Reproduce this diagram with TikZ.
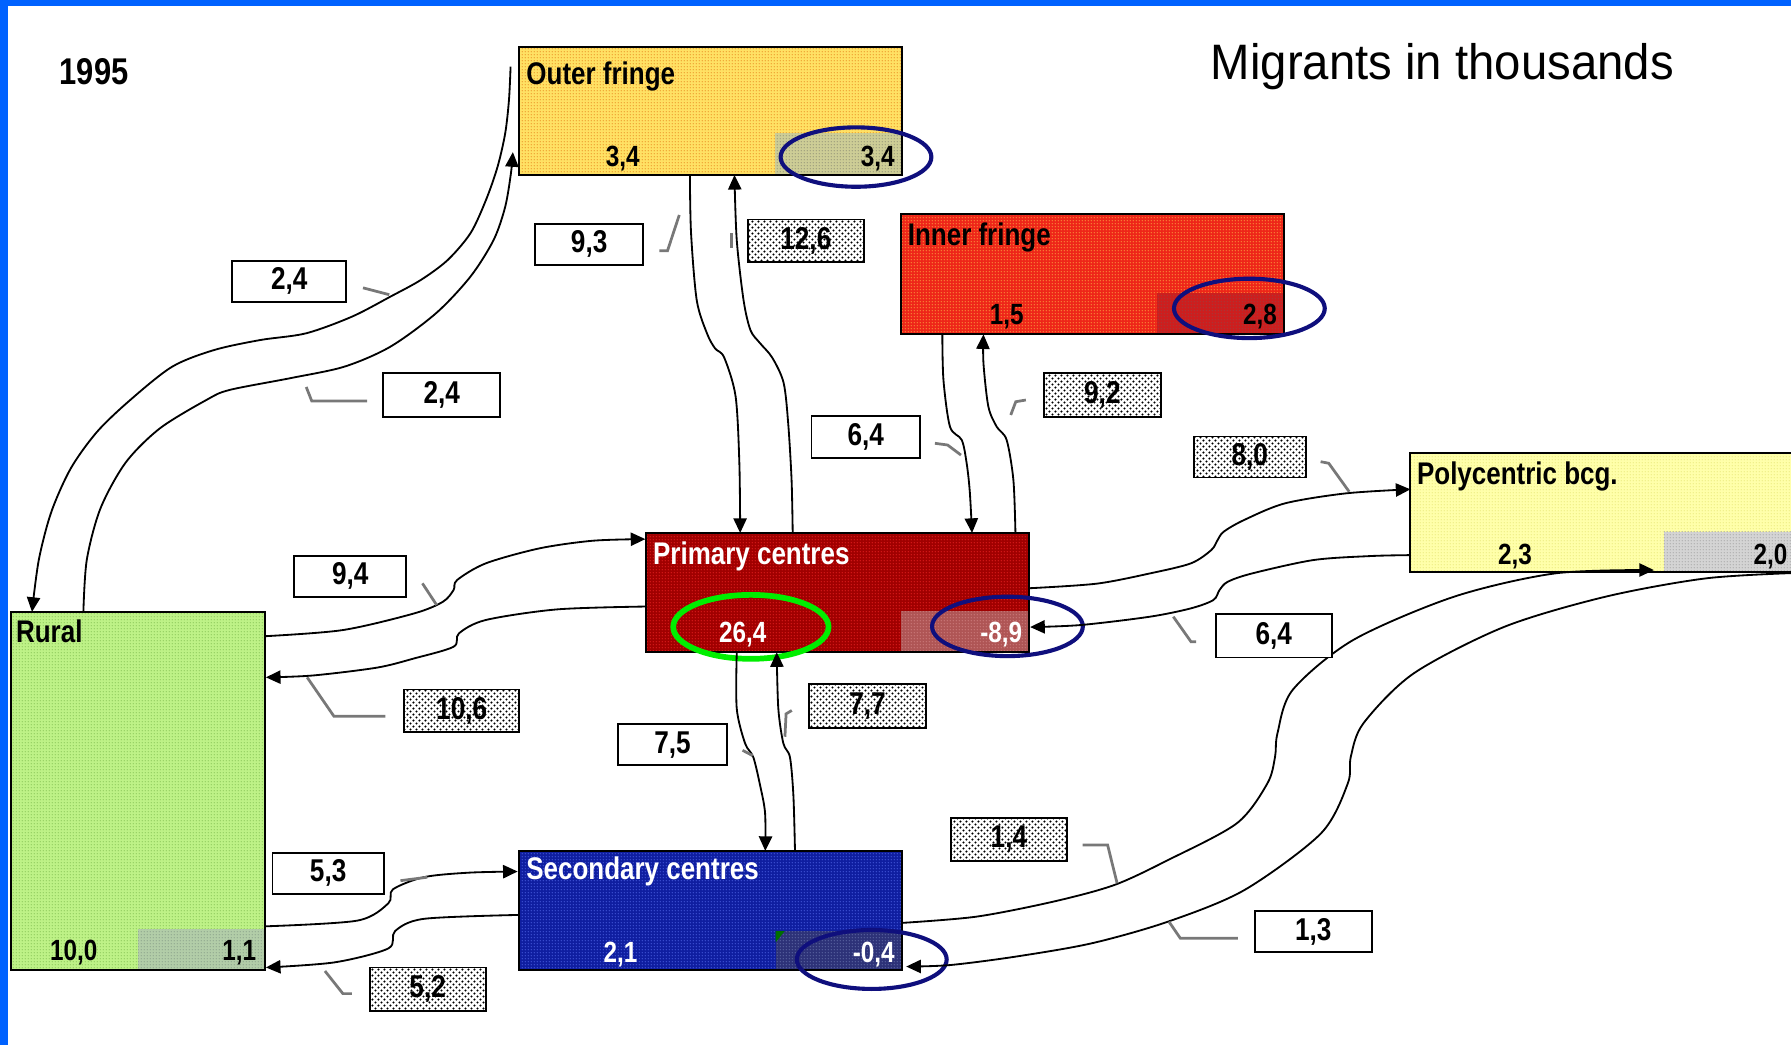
\documentclass[tikz,border=0pt]{standalone}
\usepackage{fontspec}
\setmainfont{Liberation Sans}
\newfontfamily\narrowsans[FakeStretch=0.83]{Liberation Sans}
\newfontfamily\titlesans[FakeStretch=0.95]{Liberation Sans}
\usetikzlibrary{arrows.meta,calc,patterns.meta}

% fonts
\newcommand\lblfont{\narrowsans\bfseries\fontsize{13.7}{15}\selectfont}
\newcommand\numfont{\narrowsans\bfseries\fontsize{12.8}{15}\selectfont}
\newcommand\valfont{\narrowsans\bfseries\fontsize{13.8}{15}\selectfont}
\newcommand\yearfont{\narrowsans\bfseries\fontsize{16.3}{18}\selectfont}
\newcommand\titlefont{\titlesans\fontsize{21.8}{24}\selectfont}

% colours
\definecolor{frameblue}{RGB}{0,98,255}
\definecolor{ofbg}{RGB}{255,225,100}\definecolor{ofdt}{RGB}{235,150,40}
\definecolor{ofgb}{RGB}{205,205,150}\definecolor{ofgd}{RGB}{150,150,120}
\definecolor{ifbg}{RGB}{238,38,25}\definecolor{ifdt}{RGB}{250,150,60}
\definecolor{ifgb}{RGB}{205,30,30}\definecolor{ifgd}{RGB}{160,60,60}
\definecolor{pcbg}{RGB}{160,0,0}\definecolor{pcdt}{RGB}{225,30,30}
\definecolor{pcgb}{RGB}{175,85,85}\definecolor{pcgd}{RGB}{205,125,125}
\definecolor{pobg}{RGB}{255,255,170}\definecolor{podt}{RGB}{235,235,130}
\definecolor{pogb}{RGB}{212,212,212}\definecolor{pogd}{RGB}{170,170,170}
\definecolor{rubg}{RGB}{190,242,135}\definecolor{rudt}{RGB}{140,200,90}
\definecolor{rugb}{RGB}{178,205,168}\definecolor{rugd}{RGB}{140,165,140}
\definecolor{scbg}{RGB}{15,30,160}\definecolor{scdt}{RGB}{70,90,220}
\definecolor{scgb}{RGB}{45,50,120}\definecolor{scgd}{RGB}{95,105,165}
\definecolor{navyline}{RGB}{15,15,125}
\definecolor{greenline}{RGB}{0,238,0}
\definecolor{leadgrey}{RGB}{120,120,120}
\definecolor{flaggreen}{RGB}{0,110,0}

% halftone textures
\tikzdeclarepattern{
  name=finedots,
  type=uncolored,
  bottom left={(0pt,0pt)},
  top right={(1.4pt,1.4pt)},
  tile size={(1.4pt,1.4pt)},
  code={\pgfpathcircle{\pgfpoint{0.7pt}{0.7pt}}{0.33pt}\pgfusepath{fill}}
}
\tikzdeclarepattern{
  name=labeldots,
  type=uncolored,
  bottom left={(0pt,0pt)},
  top right={(2.6pt,2.6pt)},
  tile size={(2.6pt,2.6pt)},
  code={\pgfpathcircle{\pgfpoint{0.65pt}{0.65pt}}{0.5pt}%
        \pgfpathcircle{\pgfpoint{1.95pt}{1.95pt}}{0.5pt}\pgfusepath{fill}}
}

% zone box: name, NW corner, width, height, colour prefix, grey part width, grey part height
\newcommand\zonebox[7]{%
  \node[boxbase, fill=#5bg, minimum width=#3, minimum height=#4] (#1) at (#2) {};
  \fill[pattern=finedots, pattern color=#5dt] (#1.south west) rectangle (#1.north east);
  \fill[#5gb] ($(#1.south east)+(-#6,0)$) rectangle ($(#1.south east)+(0,-#7)$);
  \fill[pattern=finedots, pattern color=#5gd] ($(#1.south east)+(-#6,0)$) rectangle ($(#1.south east)+(0,-#7)$);
  \draw[line width=0.9pt] (#1.south west) rectangle (#1.north east);
}

\begin{document}
\begin{tikzpicture}[
  x=0.5pt, y=-0.5pt,
  boxbase/.style={draw=black, line width=0.9pt, anchor=north west, inner sep=0pt, outer sep=0pt},
  boxname/.style={anchor=base west, inner sep=0pt, font=\lblfont},
  boxnum/.style={inner sep=0pt, font=\numfont},
  vbox/.style={draw=black, line width=0.8pt, inner sep=0pt, minimum height=18pt, minimum width=50pt, font=\valfont},
  vplain/.style={vbox, fill=white},
  vdots/.style={vbox, preaction={fill=white}, pattern=labeldots, pattern color=black},
  flowline/.style={draw=black, line width=0.8pt},
  flowtip/.style={-{Triangle[length=6.4pt,width=5.8pt]}},
  leadline/.style={draw=leadgrey, line width=1.2pt},
  navyring/.style={draw=navyline, line width=1.8pt},
  greenring/.style={draw=greenline, line width=2.5pt}
]
\useasboundingbox (0,0) rectangle (1568,915);
\fill[white] (0,0) rectangle (1568,915);

\begin{scope}
\clip (0,0) rectangle (1568,915);

% ---- zones
\zonebox{outer}{454.4,41.1}{167.65pt}{56.05pt}{of}{111.2}{36.5}
\zonebox{inner}{788.8,187.6}{167.7pt}{52.55pt}{if}{111.5}{35.9}
\zonebox{primary}{565.6,466.6}{167.65pt}{52.2pt}{pc}{112.1}{35.9}
\zonebox{poly}{1234.8,396.9}{200pt}{52.1pt}{po}{177.8}{35.6}
\zonebox{rural}{9.8,535.7}{111pt}{156.75pt}{ru}{111.4}{35.6}
\zonebox{second}{454.2,745}{167.6pt}{52.1pt}{sc}{110.4}{34.1}
\fill[flaggreen] ($(second.south east)+(-110.4,-34.1)$) -- ++(8,0) -- ++(-8,10) -- cycle;

% ---- zone texts
\node[boxname] (outer-t) at (460.5,74.4) {Outer fringe};
\node[boxnum, anchor=base] (outer-a) at (545.2,146) {3,4};
\node[boxnum, anchor=base east] (outer-b) at (783.6,146) {3,4};

\node[boxname] (inner-t) at (794.4,214.5) {Inner fringe};
\node[boxnum, anchor=base] (inner-a) at (881.3,284.5) {1,5};
\node[boxnum, anchor=base east] (inner-b) at (1118.3,284.5) {2,8};

\node[boxname, text=white] (primary-t) at (571.4,494) {Primary centres};
\node[boxnum, anchor=base, text=white] (primary-a) at (650.2,562.5) {26,4};
\node[boxnum, anchor=base east, text=white] (primary-b) at (895.3,562.5) {-8,9};

\node[boxname] (poly-t) at (1240.2,424.6) {Polycentric bcg.};
\node[boxnum, anchor=base] (poly-a) at (1326.4,493.8) {2,3};
\node[boxnum, anchor=base east] (poly-b) at (1565.3,493.8) {2,0};

\node[boxname] (rural-t) at (13.7,562.5) {Rural};
\node[boxnum, anchor=base] (rural-a) at (64.5,841) {10,0};
\node[boxnum, anchor=base east] (rural-b) at (224.7,841) {1,1};

\node[boxname, text=white] (second-t) at (460.4,770) {Secondary centres};
\node[boxnum, anchor=base, text=white] (second-a) at (543.3,842.5) {2,1};
\node[boxnum, anchor=base east, text=white] (second-b) at (783.6,842.5) {-0,4};

% ---- highlight rings
\draw[navyring] (749.4,137.5) ellipse [x radius=33pt, y radius=13pt];
\draw[navyring] (1093.8,270) ellipse [x radius=33pt, y radius=13pt];
\draw[navyring] (882,548.4) ellipse [x radius=33pt, y radius=13pt];
\draw[navyring] (763.2,840) ellipse [x radius=32.8pt, y radius=12.9pt];
\draw[greenring] (657.4,548.8) ellipse [x radius=34pt, y radius=14pt];

% ---- attachment points
\coordinate (or-s) at ($(outer.north west)+(-7.4,17.3)$);
\coordinate (or-e) at ($(rural.north west)+(18.2,0)$);
\coordinate (ro-s) at ($(rural.north west)+(63.2,0)$);
\coordinate (ro-e) at ($(outer.south west)+(-5.4,-20)$);
\coordinate (op-s) at ($(outer.south west)+(149.6,0)$);
\coordinate (op-e) at ($(primary.north west)+(82.4,0)$);
\coordinate (po-s) at ($(primary.north west)+(128.4,0)$);
\coordinate (po-e) at ($(outer.south west)+(188.6,0)$);
\coordinate (ip-s) at ($(inner.south west)+(36.2,0)$);
\coordinate (ip-e) at ($(primary.north west)+(285.4,0)$);
\coordinate (pi-s) at ($(primary.north west)+(323.4,0)$);
\coordinate (pi-e) at ($(inner.south west)+(72.2,0)$);
\coordinate (ppo-s) at ($(primary.north east)+(0,48.4)$);
\coordinate (ppo-e) at ($(poly.north west)+(0,31.5)$);
\coordinate (pop-s) at ($(poly.north west)+(0,89.1)$);
\coordinate (pop-e) at ($(primary.north east)+(1,82.4)$);
\coordinate (rp-s) at ($(rural.north east)+(0,21.3)$);
\coordinate (rp-e) at ($(primary.north west)+(-0.6,5.4)$);
\coordinate (pr-s) at ($(primary.north west)+(0,64.4)$);
\coordinate (pr-e) at ($(rural.north east)+(1,57.3)$);
\coordinate (ps-s) at ($(primary.south west)+(79.4,0)$);
\coordinate (ps-e) at ($(second.north west)+(215.8,0)$);
\coordinate (sp-s) at ($(second.north west)+(241.8,0)$);
\coordinate (sp-e) at ($(primary.south west)+(114.4,0)$);
\coordinate (rs-s) at ($(rural.south east)+(0,-38.2)$);
\coordinate (rs-e) at ($(second.north west)+(-1,18)$);
\coordinate (sr-s) at ($(second.north west)+(0,56)$);
\coordinate (sr-e) at ($(rural.south east)+(1,-2.2)$);
\coordinate (spo-s) at ($(second.north east)+(0,63)$);
\coordinate (spo-e) at ($(poly.south west)+(213.2,-2)$);
\coordinate (pos-s) at ($(poly.south west)+(340,0.4)$);
\coordinate (pos-e) at ($(second.south east)+(4,-3)$);

% ---- flows
% outer fringe <-> rural
\draw[flowline, flowtip] plot[smooth, tension=0.5] coordinates {(or-s) (445.6,87.5) (442.3,116.7) (435.6,146) (425.5,175) (412,204) (392,227.6) (368.6,245) (341.8,259.7) (308.2,277.2) (268,291.8) (227.8,297.7) (187.6,306.4) (150.8,321) (114,350.2) (85,378) (62,410) (45,448) (34,490) (or-e)};
\draw[flowline, flowtip] plot[smooth, tension=0.5] coordinates {(ro-s) (76,490) (88,445) (110,405) (140,375) (181,350) (201,341.4) (254.6,331) (301.5,321) (341.8,303.5) (382,274) (412,242) (432.2,210) (442.3,181) (447.3,151.8) (ro-e)};
% outer fringe <-> primary centres
\draw[flowline, flowtip] plot[smooth, tension=0.5] coordinates {(op-s) (605,204) (610,263) (619,292) (626,305) (634,313) (644,347) (647.3,405.6) (op-e)};
\draw[flowline, flowtip] plot[smooth, tension=0.5] coordinates {(po-s) (693,420) (690,370) (686,335) (676,313) (665,300) (657,289) (651,263) (645,210) (po-e)};
% inner fringe <-> primary centres
\draw[flowline, flowtip] plot[smooth, tension=0.5] coordinates {(ip-s) (826,333) (831.7,373.6) (842,385.2) (846.3,405.6) (849,430) (ip-e)};
\draw[flowline, flowtip] plot[smooth, tension=0.5] coordinates {(pi-s) (887.2,420.2) (881.3,385.2) (872.6,373.6) (865.3,356) (861,318) (pi-e)};
% primary centres <-> polycentric
\draw[flowline, flowtip] plot[smooth, tension=0.5] coordinates {(ppo-s) (960,511) (1006.8,502) (1042.6,493.2) (1060.5,481.5) (1066,472.8) (1071.3,465.5) (1089.1,455.3) (1124.9,440.7) (1178.6,431.9) (ppo-e)};
\draw[flowline, flowtip] plot[smooth, tension=0.5] coordinates {(pop-s) (1200.1,486.8) (1150,490.3) (1096.3,502) (1074.9,509.3) (1067.7,516.5) (1062.3,525.3) (1042.6,532.6) (1006.8,539.9) (946.2,547.2) (pop-e)};
% rural <-> primary centres
\draw[flowline, flowtip] plot[smooth, tension=0.5] coordinates {(rp-s) (300.2,551.6) (362.7,537) (387.8,526.8) (397.1,516.5) (400.2,507.8) (425.3,493.2) (472.2,480.1) (519,473.4) (rp-e)};
\draw[flowline, flowtip] plot[smooth, tension=0.5] coordinates {(pr-s) (487.8,533.5) (425.3,542.8) (401.8,554.5) (397.1,566.2) (362.7,576.4) (330,584.5) (273.6,591.4) (pr-e)};
% primary centres <-> secondary centres
\draw[flowline, flowtip] plot[smooth, tension=0.5] coordinates {(ps-s) (645,620.3) (652.3,650.8) (659.5,662.9) (665.4,687.3) (669.8,711.6) (ps-e)};
\draw[flowline, flowtip] plot[smooth, tension=0.5] coordinates {(sp-s) (694.6,696.4) (691.6,663) (685.8,650.8) (681.4,620.3) (sp-e)};
% rural <-> secondary centres
\draw[flowline, flowtip] plot[smooth, tension=0.5] coordinates {(rs-s) (312.7,806) (340,790.8) (344,778.6) (371.3,767.9) (410.4,764) (rs-e)};
\draw[flowline, flowtip] plot[smooth, tension=0.5] coordinates {(sr-s) (371.3,804.4) (345.9,815.1) (340,830.3) (293.1,842.5) (sr-e)};
% secondary centres <-> polycentric
\draw[flowline, flowtip] plot[smooth, tension=0.5] coordinates {(spo-s) (854.9,802.5) (922,789.4) (975.6,774.8) (1022.5,753) (1082.8,720.8) (1109.6,685.8) (1116.3,662.5) (1118.4,642) (1131.7,604) (1184.7,560.3) (1273,522.4) (1361.4,502) (spo-e)};
\draw[flowline, flowtip] plot[smooth, tension=0.5] coordinates {(pos-s) (1493.9,506.3) (1405.6,522.4) (1317.2,548.7) (1237.7,589.5) (1193.6,633.3) (1182.6,662.5) (1180,685.8) (1156.5,729.6) (1089.5,779.2) (1022.5,806.9) (955.5,825.9) (888.5,837.6) (831.6,844.9) (pos-e)};

% ---- value labels
\node[vplain, minimum width=49.9pt] (v-or) at (253.3,246.3) {2,4};
\node[vplain, minimum width=51.1pt, minimum height=19pt] (v-ro) at (386.7,345.9) {2,4};
\node[vplain, minimum width=47.4pt] (v-op) at (515.8,213.9) {9,3};
\node[vdots, minimum width=50.9pt, minimum height=18.8pt] (v-po) at (705.5,210.9) {12,6};
\node[vdots, minimum width=51.1pt, minimum height=19pt] (v-pi) at (965.1,345.9) {9,2};
\node[vplain, minimum width=47.5pt, minimum height=18.5pt] (v-ip) at (758,382.8) {6,4};
\node[vdots, minimum width=49pt] (v-ppo) at (1094.2,400.1) {8,0};
\node[vplain, minimum width=49.2pt] (v-rp) at (306.6,504.6) {9,4};
\node[vdots, minimum width=50.5pt, minimum height=18.7pt] (v-pr) at (404.2,622.3) {10,6};
\node[vplain, minimum width=47.4pt] (v-ps) at (588.8,651.9) {7,5};
\node[vdots, minimum width=50.9pt, minimum height=19pt] (v-sp) at (759.5,618) {7,7};
\node[vplain, minimum width=50.6pt, minimum height=19pt] (v-pop) at (1115.2,556.6) {6,4};
\node[vdots, minimum width=50.8pt, minimum height=18.8pt] (v-spo) at (883.3,734.7) {1,4};
\node[vplain, minimum width=48.8pt] (v-rs) at (287.3,764.5) {5,3};
\node[vdots, minimum width=50.8pt, minimum height=19pt] (v-sr) at (374.4,866.1) {5,2};
\node[vplain, minimum width=51pt] (v-pos) at (1149.8,815.7) {1,3};

% ---- leader lines from labels to flows
\draw[leadline] ($(v-or.east)+(13.8,5.7)$) -- ++(23,6);
\draw[leadline] ($(v-ro.west)+(-13.5,5.1)$) -- ++(-48.4,0) -- ++(-4.8,-12.2);
\draw[leadline] ($(v-op.east)+(13.2,5.6)$) -- ++(7.2,0) -- ++(10.3,-31.3);
\draw[leadline] ($(v-po.west)+(-13.4,-6.6)$) -- ++(0,13.1);
\draw[leadline] ($(v-pi.west)+(-15.1,4.3)$) -- ++(-8.8,1.5) -- ++(-4.4,11.6);
\draw[leadline] ($(v-ip.east)+(12.2,5.3)$) -- ++(11.1,1.5) -- ++(11.7,8.8);
\draw[leadline] ($(v-ppo.east)+(12.2,4.1)$) -- ++(7.1,1.4) -- ++(17.9,24.9);
\draw[leadline] ($(v-pop.west)+(-16.7,5.2)$) -- ++(-4.4,0) -- ++(-15.5,-21.9);
\draw[leadline] ($(v-rp.east)+(13.2,6.1)$) -- ++(12.5,19);
\draw[leadline] ($(v-pr.west)+(-15.6,4.7)$) -- ++(-45,0) -- ++(-23.4,-34);
\draw[leadline] ($(v-ps.east)+(13.1,5)$) -- ++(8.8,4.6);
\draw[leadline] ($(v-sp.west)+(-14.6,4)$) -- ++(-5,3) -- ++(-1,20);
\draw[leadline] ($(v-spo.east)+(13,5.1)$) -- ++(21.8,0) -- ++(8.3,33.5);
\draw[leadline] ($(v-rs.east)+(13.7,6.5)$) -- ++(23.4,-3);
\draw[leadline] ($(v-sr.west)+(-14.8,3.8)$) -- ++(-7.8,0) -- ++(-15.7,-19.8);
\draw[leadline] ($(v-pos.west)+(-14.3,5.8)$) -- ++(-50.3,0) -- ++(-10,-14.6);

% ---- headings
\node[anchor=base west, inner sep=0pt, font=\yearfont] (year) at (51.9,74.4) {1995};
\node[anchor=base west, inner sep=0pt, font=\titlefont] (title) at (1059.8,69.2) {Migrants in thousands};
\end{scope}

% ---- frame bars
\fill[frameblue] (0,0) rectangle (1568,5);
\fill[frameblue] (0,0) rectangle (7.4,915);
\end{tikzpicture}
\end{document}
